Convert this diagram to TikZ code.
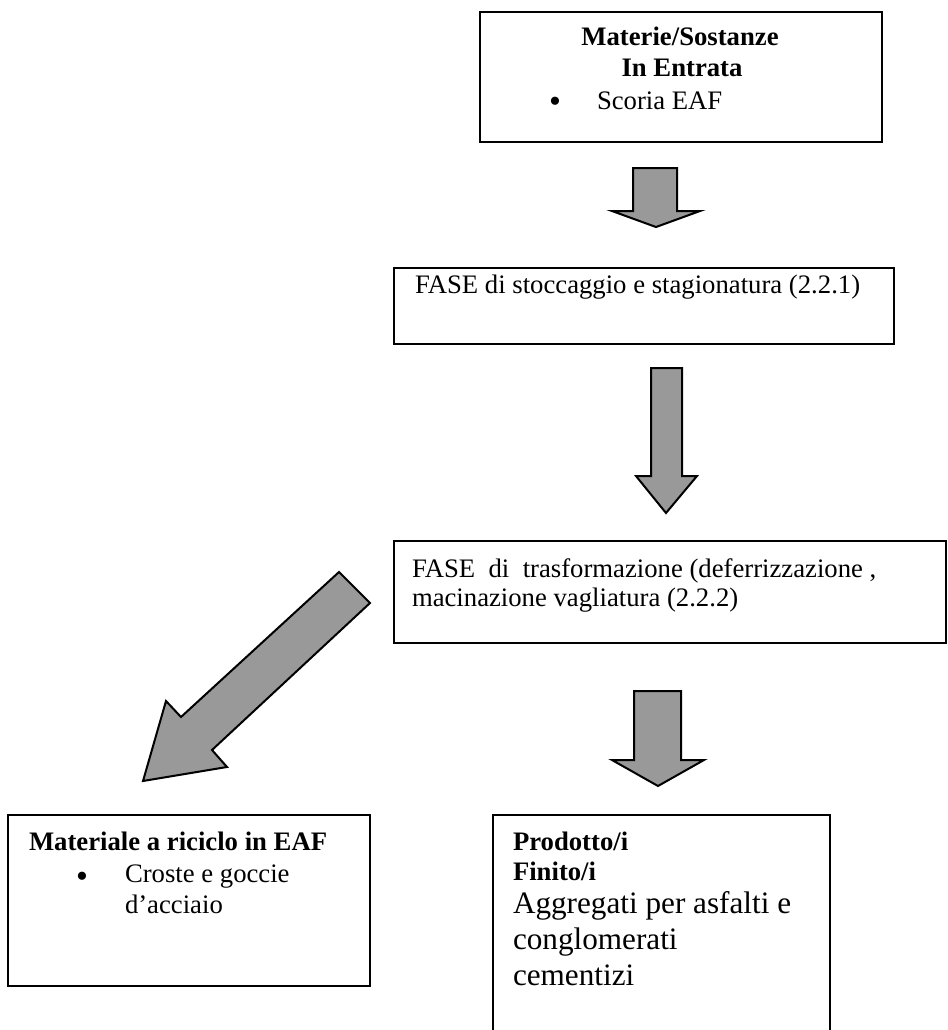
\documentclass[tikz,border=0pt]{standalone}
\usepackage{fontspec}
\setmainfont{Liberation Serif}
\newcommand\fsn{\fontsize{13.35pt}{14.75pt}\selectfont}
\newcommand\fsbig{\fontsize{15.6pt}{18pt}\selectfont}
\newcommand\fsbul{\fontsize{17pt}{17pt}\selectfont}
\definecolor{arrowgray}{RGB}{153,153,153}
\begin{document}
\begin{tikzpicture}[x=0.5pt,y=-0.5pt,
  boxnode/.style={draw=black,line width=1pt,inner sep=0pt,outer sep=0pt,anchor=north west,fill=white},
  txt/.style={inner sep=0pt,outer sep=0pt,anchor=base west,font=\fsn,text height=0.7em,text depth=0.2em},
  txtc/.style={inner sep=0pt,outer sep=0pt,anchor=base,font=\fsn\bfseries,text height=0.7em,text depth=0.2em},
  bul/.style={inner sep=0pt,outer sep=0pt,anchor=base,font=\fsbul,text height=0.5em,text depth=0pt},
  blockarrow/.style={draw=black,line width=1pt,fill=arrowgray,line join=miter}]
\useasboundingbox (0,0) rectangle (948,1030);

% boxes
\node[boxnode,minimum width=201pt,minimum height=65pt] (b1) at (480,12) {};
\node[boxnode,minimum width=250pt,minimum height=38pt] (b2) at (394,268) {};
\node[boxnode,minimum width=276pt,minimum height=51pt] (b3) at (394,541) {};
\node[boxnode,minimum width=181pt,minimum height=85.5pt] (b4) at (8,815) {};
\node[boxnode,minimum width=168.5pt,minimum height=115pt] (b5) at (493,815) {};

% box 1 text
\node[txtc] (t1a) at (680,45) {Materie/Sostanze};
\node[txtc] (t1b) at (682,76) {In Entrata};
\node[bul] (t1bul) at (555,112) {•};
\node[txt] (t1c) at (597,109) {Scoria EAF};

% box 2 text
\node[txt] (t2) at (415,293) {FASE di stoccaggio e stagionatura (2.2.1)};

% box 3 text
\node[txt] (t3a) at (412,577) {FASE\ \ di\ \ trasformazione (deferrizzazione ,};
\node[txt] (t3b) at (412,606) {macinazione vagliatura (2.2.2)};

% box 4 text
\node[txt,font=\fsn\bfseries] (t4a) at (29,850) {Materiale a riciclo in EAF};
\node[bul] (t4bul) at (82,887) {•};
\node[txt] (t4b) at (125,882) {Croste e goccie};
\node[txt] (t4c) at (125,913) {d’acciaio};

% box 5 text
\node[txt,font=\fsn\bfseries] (t5a) at (513,850) {Prodotto/i};
\node[txt,font=\fsn\bfseries] (t5b) at (513,880) {Finito/i};
\node[txt,font=\fsbig] (t5c) at (513,913) {Aggregati per asfalti e};
\node[txt,font=\fsbig] (t5d) at (513,949) {conglomerati};
\node[txt,font=\fsbig] (t5e) at (513,985) {cementizi};

% block arrows
\draw[blockarrow] (633,168) -- (677,168) -- (677,211) -- (700,211) -- (656,227) -- (612,211) -- (633,211) -- cycle;
\draw[blockarrow] (651,368) -- (682,368) -- (682,476) -- (697,476) -- (666,513) -- (636,476) -- (651,476) -- cycle;
\draw[blockarrow] (634,691) -- (681,691) -- (681,760) -- (704,760) -- (658,786) -- (612,760) -- (634,760) -- cycle;
\draw[blockarrow] (339,572) -- (370,603) -- (212,750) -- (227,767) -- (143,781) -- (166,701) -- (181,717) -- cycle;
\end{tikzpicture}
\end{document}
